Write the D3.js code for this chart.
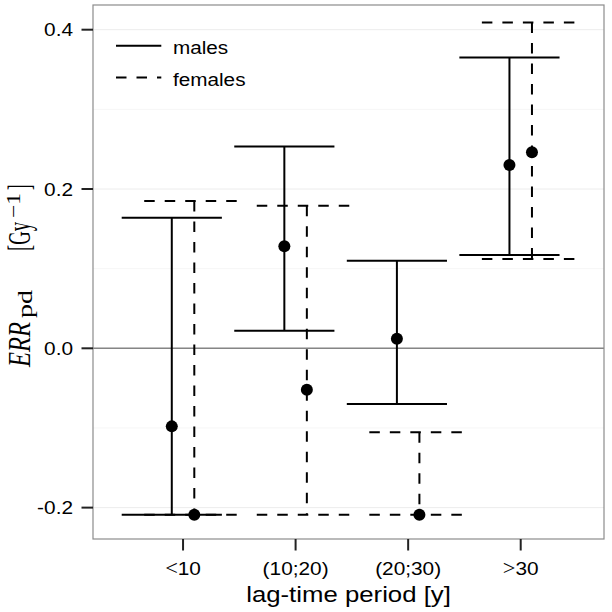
<!DOCTYPE html>
<html>
<head>
<meta charset="utf-8">
<script src="https://cdn.jsdelivr.net/npm/d3@7"></script>
<style>
  html, body { margin: 0; padding: 0; background: #fff; }
  svg { display: block; }
</style>
</head>
<body>
<svg id="chart" width="612" height="612"></svg>
<script>
// ---------------- data ----------------
const categories = ["<10", "(10;20)", "(20;30)", ">30"];
const tickLabels = [["<", "10"], ["", "(10;20)"], ["", "(20;30)"], [">", "30"]];
const malesEst  = [-0.098, 0.128, 0.012, 0.230];
const malesLow  = [-0.209, 0.022, -0.070, 0.117];
const malesHigh = [0.164, 0.2535, 0.110, 0.365];
const femalesEst  = [-0.209, -0.052, -0.209, 0.246];
const femalesLow  = [-0.209, -0.209, -0.209, 0.112];
const femalesHigh = [0.185, 0.179, -0.1055, 0.409];
const yTicks = [-0.2, 0.0, 0.2, 0.4];
const yTickLabels = ["-0.2", "0.0", "0.2", "0.4"];
const yMinor = [-0.1, 0.1, 0.3];
const legendLabels = ["males", "females"];

// ---------------- layout ----------------
const svg = d3.select("#chart");
const panel = { left: 93, right: 604, top: 5, bottom: 539 };
const STRETCH = 1.12;
const SANS = "'Liberation Sans', Arial, Helvetica, sans-serif";
const SERIF = "'Liberation Serif', 'Times New Roman', serif";
const DASH = "10.5,10";

const x = d3.scaleLinear().domain([0.2, 4.74]).range([panel.left, panel.right]);
const y = d3.scaleLinear().domain([-0.2394, 0.431]).range([panel.bottom, panel.top]);
const dodge = 0.1, capHalf = 0.445;

// panel background
svg.append("rect")
  .attr("x", panel.left).attr("y", panel.top)
  .attr("width", panel.right - panel.left).attr("height", panel.bottom - panel.top)
  .attr("fill", "#fff");

// grid
svg.append("g").selectAll("line").data(yMinor).join("line")
  .attr("x1", panel.left).attr("x2", panel.right)
  .attr("y1", d => y(d)).attr("y2", d => y(d))
  .attr("stroke", "#f6f6f6").attr("stroke-width", 1);
svg.append("g").selectAll("line").data(yTicks).join("line")
  .attr("x1", panel.left).attr("x2", panel.right)
  .attr("y1", d => y(d)).attr("y2", d => y(d))
  .attr("stroke", "#ececec").attr("stroke-width", 1);

// zero reference line
svg.append("line")
  .attr("x1", panel.left).attr("x2", panel.right)
  .attr("y1", y(0)).attr("y2", y(0))
  .attr("stroke", "#858585").attr("stroke-width", 1.4);

// error bars
function drawSeries(est, lo, hi, off, dashed) {
  const g = svg.append("g")
    .attr("stroke", "#000").attr("stroke-width", 2).attr("fill", "none");
  categories.forEach((c, i) => {
    const cx = i + 1 + off;
    const segs = [
      [cx - capHalf, hi[i], cx + capHalf, hi[i]],
      [cx, hi[i], cx, lo[i]],
      [cx - capHalf, lo[i], cx + capHalf, lo[i]]
    ];
    segs.forEach(s => {
      const l = g.append("line")
        .attr("x1", x(s[0])).attr("y1", y(s[1]))
        .attr("x2", x(s[2])).attr("y2", y(s[3]));
      if (dashed) l.attr("stroke-dasharray", DASH);
    });
  });
  return g;
}
drawSeries(malesEst, malesLow, malesHigh, -dodge, false);
drawSeries(femalesEst, femalesLow, femalesHigh, dodge, true);

// points
const pts = [];
categories.forEach((c, i) => {
  pts.push({ cx: i + 1 - dodge, v: malesEst[i] });
  pts.push({ cx: i + 1 + dodge, v: femalesEst[i] });
});
svg.append("g").selectAll("circle").data(pts).join("circle")
  .attr("cx", d => x(d.cx)).attr("cy", d => y(d.v)).attr("r", 6)
  .attr("fill", "#000");

// panel border
svg.append("rect")
  .attr("x", panel.left).attr("y", panel.top)
  .attr("width", panel.right - panel.left).attr("height", panel.bottom - panel.top)
  .attr("fill", "none").attr("stroke", "#8c8c8c").attr("stroke-width", 1.2);

// helper for stretched text
function stext(px, py, anchor, size, font, rotate, sx) {
  const g = svg.append("g")
    .attr("transform", `translate(${px},${py}) scale(${sx || STRETCH},1)` + (rotate ? ` rotate(${rotate})` : ""));
  return g.append("text")
    .attr("text-anchor", anchor)
    .attr("font-family", font)
    .attr("font-size", size)
    .attr("fill", "#000");
}

// y axis ticks + labels
svg.append("g").selectAll("line").data(yTicks).join("line")
  .attr("x1", panel.left - 11.5).attr("x2", panel.left)
  .attr("y1", d => y(d)).attr("y2", d => y(d))
  .attr("stroke", "#222").attr("stroke-width", 2);
yTicks.forEach((t, i) => {
  stext(73, y(t) + 6.6, "end", 18.6, SANS).text(yTickLabels[i]);
});

// x axis ticks + labels
svg.append("g").selectAll("line").data(categories).join("line")
  .attr("x1", (d, i) => x(i + 1)).attr("x2", (d, i) => x(i + 1))
  .attr("y1", panel.bottom).attr("y2", panel.bottom + 11.5)
  .attr("stroke", "#222").attr("stroke-width", 2);
categories.forEach((c, i) => {
  const t = stext(x(i + 1), 575, "middle", 18.6, SANS);
  if (tickLabels[i][0]) {
    t.append("tspan").attr("font-family", SERIF).attr("font-size", 20).text(tickLabels[i][0]);
  }
  t.append("tspan").text(tickLabels[i][1]);
});

// x axis title
stext(348.5, 601.5, "middle", 23, SANS).text("lag-time period [y]");

// y axis title (math-style), pieces laid along the rotated baseline
const ytG = svg.append("g")
  .attr("transform", "translate(30,367) scale(1.3,1) rotate(-90)")
  .attr("font-family", SERIF).attr("fill", "#000");
const yTitleParts = [
  { t: "ERR", u: 0, len: 45, size: 23.5, v: 0, italic: true },
  { t: "pd", u: 49, len: 28, size: 15.5, v: 1.5 },
  { t: "[Gy", u: 116, len: 29, size: 23.5, v: 0 },
  { t: "\u22121", u: 149, len: 25, size: 15, v: -7.7 },
  { t: "]", u: 177, len: 5.5, size: 23.5, v: 0 }
];
yTitleParts.forEach(p => {
  ytG.append("text")
    .attr("x", p.u).attr("y", p.v)
    .attr("font-size", p.size)
    .attr("font-style", p.italic ? "italic" : "normal")
    .attr("textLength", p.len).attr("lengthAdjust", "spacingAndGlyphs")
    .text(p.t);
});

// legend
const legY = [45.7, 77.5];
legendLabels.forEach((lab, i) => {
  const l = svg.append("line")
    .attr("x1", 116).attr("x2", 161.3)
    .attr("y1", legY[i]).attr("y2", legY[i])
    .attr("stroke", "#000").attr("stroke-width", 2);
  if (i === 1) l.attr("stroke-dasharray", DASH);
  stext(173, legY[i] + 8.3, "start", 18.5, SANS).text(lab);
});
</script>
</body>
</html>
